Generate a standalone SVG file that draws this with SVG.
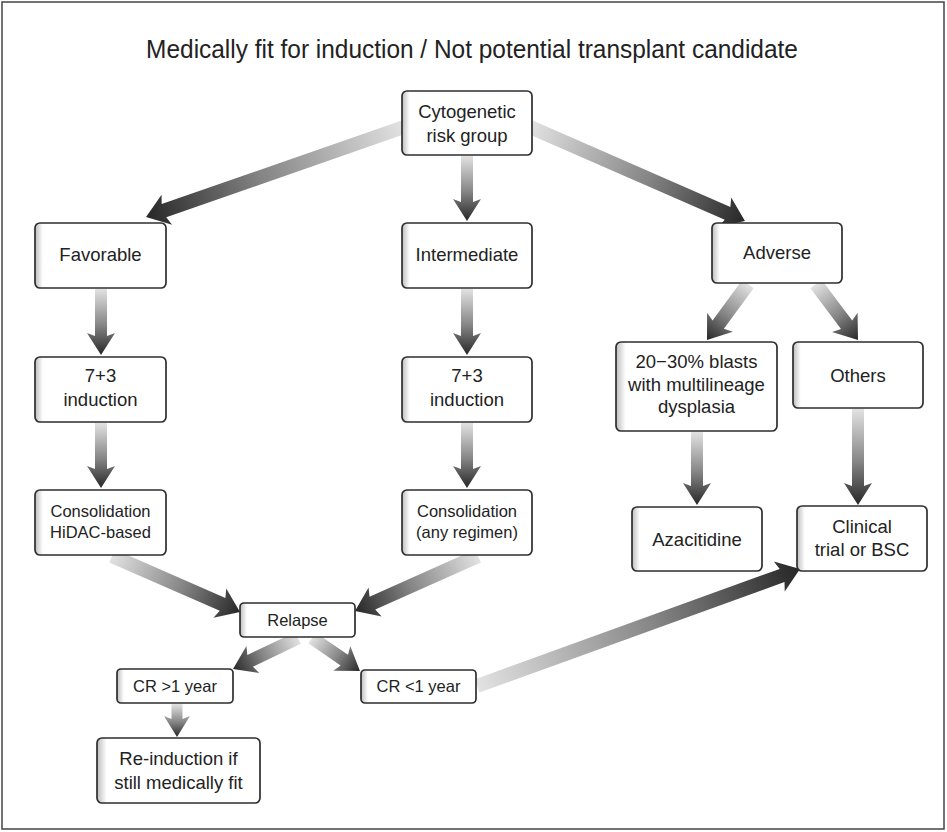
<svg xmlns="http://www.w3.org/2000/svg" width="947" height="832" viewBox="0 0 947 832">
<defs>
<linearGradient id="ag" x1="0" y1="0" x2="1" y2="0">
<stop offset="0" stop-color="#e2e2e2"/>
<stop offset="0.55" stop-color="#858585"/>
<stop offset="1" stop-color="#272727"/>
</linearGradient>
<linearGradient id="bf" x1="0" y1="0" x2="1" y2="0">
<stop offset="0" stop-color="#bdbdbd"/>
<stop offset="0.06" stop-color="#ffffff"/>
<stop offset="1" stop-color="#ffffff"/>
</linearGradient>
<style>
.box{fill:url(#bf);stroke:#2e2e2e;stroke-width:1.7}
.t{font-family:"Liberation Sans",Arial,sans-serif;font-size:18.5px;fill:#222;text-anchor:middle}
.s{font-family:"Liberation Sans",Arial,sans-serif;font-size:16.5px;fill:#222;text-anchor:middle}
.title{font-family:"Liberation Sans",Arial,sans-serif;font-size:26px;fill:#222;text-anchor:middle}
.ar{fill:url(#ag)}
</style>
</defs>
<rect x="0" y="0" width="947" height="832" fill="#fff"/>
<rect x="2" y="2" width="942" height="827" fill="none" stroke="#444" stroke-width="1.5"/>
<text class="title" transform="translate(472,58) scale(0.94,1)" x="0" y="0">Medically fit for induction / Not potential transplant candidate</text>

<g id="connectors">
<path class="ar" transform="translate(404,127) rotate(160.77)" d="M0,-7 L254.2,-7 L251.2,-16 L273.2,0 L251.2,16 L254.2,7 L0,7 Z"/>
<path class="ar" transform="translate(467,156) rotate(90)" d="M0,-6 L46,-6 L43,-14 L65,0 L43,14 L46,6 L0,6 Z"/>
<path class="ar" transform="translate(530,127) rotate(23.61)" d="M0,-7 L215.6,-7 L212.6,-16 L234.6,0 L212.6,16 L215.6,7 L0,7 Z"/>
<path class="ar" transform="translate(101,289) rotate(90)" d="M0,-6 L47,-6 L44,-14 L66,0 L44,14 L47,6 L0,6 Z"/>
<path class="ar" transform="translate(467,289) rotate(90)" d="M0,-6 L47,-6 L44,-14 L66,0 L44,14 L47,6 L0,6 Z"/>
<path class="ar" transform="translate(101,423) rotate(90)" d="M0,-6 L46,-6 L43,-14 L65,0 L43,14 L46,6 L0,6 Z"/>
<path class="ar" transform="translate(467,423) rotate(90)" d="M0,-6 L46,-6 L43,-14 L65,0 L43,14 L46,6 L0,6 Z"/>
<path class="ar" transform="translate(748,284) rotate(126.21)" d="M0,-7 L50.4,-7 L47.4,-16 L69.4,0 L47.4,16 L50.4,7 L0,7 Z"/>
<path class="ar" transform="translate(816,284) rotate(53.13)" d="M0,-7 L51,-7 L48,-16 L70,0 L48,16 L51,7 L0,7 Z"/>
<path class="ar" transform="translate(697,432) rotate(90)" d="M0,-6 L54,-6 L51,-14 L73,0 L51,14 L54,6 L0,6 Z"/>
<path class="ar" transform="translate(858,409) rotate(90)" d="M0,-6 L77,-6 L74,-14 L96,0 L74,14 L77,6 L0,6 Z"/>
<path class="ar" transform="translate(112,556) rotate(23.63)" d="M0,-7 L120.7,-7 L117.7,-16 L139.7,0 L117.7,16 L120.7,7 L0,7 Z"/>
<path class="ar" transform="translate(478,556) rotate(155.91)" d="M0,-7 L115.7,-7 L112.7,-16 L134.7,0 L112.7,16 L115.7,7 L0,7 Z"/>
<path class="ar" transform="translate(298,638) rotate(154.5)" d="M0,-6.5 L53,-6.5 L50,-15 L72,0 L50,15 L53,6.5 L0,6.5 Z"/>
<path class="ar" transform="translate(312,638) rotate(34.5)" d="M0,-6.5 L39.2,-6.5 L36.2,-15 L58.2,0 L36.2,15 L39.2,6.5 L0,6.5 Z"/>
<path class="ar" transform="translate(177,704) rotate(90)" d="M0,-5.5 L15,-5.5 L12,-13 L33,0 L12,13 L15,5.5 L0,5.5 Z"/>
<path class="ar" transform="translate(477,686) rotate(-19.91)" d="M0,-7 L324.5,-7 L321.5,-16 L343.5,0 L321.5,16 L324.5,7 L0,7 Z"/>
</g>

<g id="cytogenetic"><rect class="box" x="402" y="91" width="130" height="64" rx="5"/><text class="t" x="467" y="118">Cytogenetic</text><text class="t" x="467" y="141.5">risk group</text></g>
<g id="favorable"><rect class="box" x="35" y="223" width="131" height="65" rx="5"/><text class="t" x="100.5" y="261">Favorable</text></g>
<g id="intermediate"><rect class="box" x="402" y="223" width="130" height="65" rx="5"/><text class="t" x="467" y="261">Intermediate</text></g>
<g id="adverse"><rect class="box" x="712" y="223" width="130" height="60" rx="5"/><text class="t" x="777" y="259">Adverse</text></g>
<g id="induction-left"><rect class="box" x="35" y="357" width="131" height="65" rx="5"/><text class="t" x="100.5" y="382">7+3</text><text class="t" x="100.5" y="405.5">induction</text></g>
<g id="induction-mid"><rect class="box" x="402" y="357" width="130" height="65" rx="5"/><text class="t" x="467" y="382">7+3</text><text class="t" x="467" y="405.5">induction</text></g>
<g id="blasts"><rect class="box" x="616" y="342" width="161" height="89" rx="5"/><text class="t" x="696.5" y="368">20−30% blasts</text><text class="t" x="696.5" y="390.5">with multilineage</text><text class="t" x="696.5" y="413">dysplasia</text></g>
<g id="others"><rect class="box" x="793" y="342" width="130" height="66" rx="5"/><text class="t" x="858" y="381.5">Others</text></g>
<g id="consolidation-hidac"><rect class="box" x="35" y="490" width="131" height="65" rx="5"/><text class="s" x="100.5" y="517">Consolidation</text><text class="s" x="100.5" y="537.5">HiDAC-based</text></g>
<g id="consolidation-any"><rect class="box" x="402" y="490" width="130" height="65" rx="5"/><text class="s" x="467" y="517">Consolidation</text><text class="s" x="467" y="537.5">(any regimen)</text></g>
<g id="azacitidine"><rect class="box" x="632" y="507" width="130" height="64" rx="5"/><text class="t" x="697" y="546">Azacitidine</text></g>
<g id="clinical"><rect class="box" x="797" y="506" width="130" height="65" rx="5"/><text class="t" x="862" y="533">Clinical</text><text class="t" x="862" y="556">trial or BSC</text></g>
<g id="relapse"><rect class="box" x="240" y="603" width="115" height="34" rx="4"/><text class="s" x="297.5" y="626">Relapse</text></g>
<g id="cr-more"><rect class="box" x="117" y="669" width="116" height="34" rx="4"/><text class="s" x="175" y="692">CR &gt;1 year</text></g>
<g id="cr-less"><rect class="box" x="361" y="670" width="115" height="33" rx="4"/><text class="s" x="418.5" y="692">CR &lt;1 year</text></g>
<g id="reinduction"><rect class="box" x="97" y="738" width="163" height="65" rx="5"/><text class="t" x="178.5" y="765">Re-induction if</text><text class="t" x="178.5" y="788.5">still medically fit</text></g>
</svg>
